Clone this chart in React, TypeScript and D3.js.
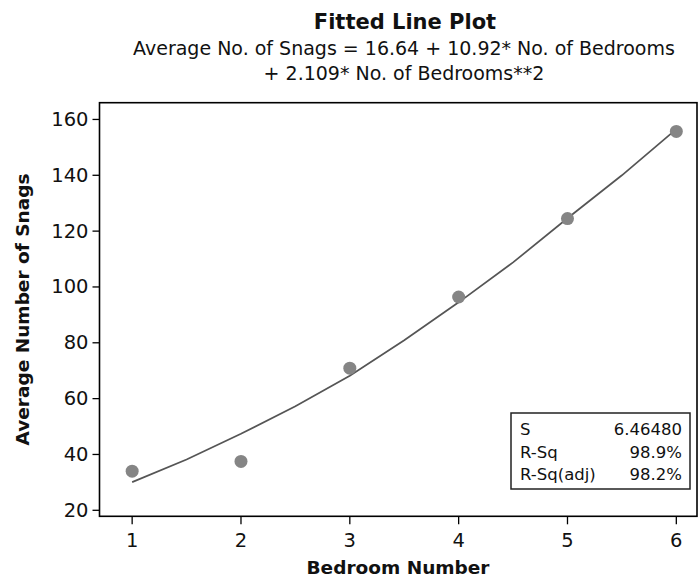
import React from "react";
import * as d3 from "d3";

const bedrooms = [1, 2, 3, 4, 5, 6];
const avgSnags = [34.0, 37.5, 70.9, 96.4, 124.5, 155.7];

const fitX = [1, 1.5, 2, 2.5, 3, 3.5, 4, 4.5, 5, 5.5, 6];
const fitY = [30.1, 38.2, 47.4, 57.3, 68.2, 80.9, 94.5, 108.8, 124.6, 140.0, 156.5];

const xTicks = [1, 2, 3, 4, 5, 6];
const yTicks = [20, 40, 60, 80, 100, 120, 140, 160];

const statLabels = ["S", "R-Sq", "R-Sq(adj)"];
const statValues = ["6.46480", "98.9%", "98.2%"];

const titleText = "Fitted Line Plot";
const subtitleLines = [
  "Average No. of Snags = 16.64 + 10.92* No. of Bedrooms",
  "+ 2.109* No. of Bedrooms**2",
];
const xTitle = "Bedroom Number";
const yTitle = "Average Number of Snags";

const W = 698;
const H = 578;
const left = 99.5;
const right = 697;
const top = 102.7;
const bottom = 516.3;
const FONT = "'DejaVu Sans', Verdana, sans-serif";

export default function App() {
  const x = d3.scaleLinear().domain([0.7, 6.19]).range([left, right]);
  const y = d3.scaleLinear().domain([17.85, 166]).range([bottom, top]);
  const line = d3
    .line<number>()
    .x((_, i) => x(fitX[i]))
    .y((d) => y(d))
    .curve(d3.curveLinear);

  const lx = 511;
  const ly = 413;
  const lw = 179;
  const lh = 76;

  return (
    <svg
      width={W}
      height={H}
      style={{ position: "absolute", left: 0, top: 0, background: "#fff" }}
      fontFamily={FONT}
    >
      <rect x={0} y={0} width={W} height={H} fill="#fff" />
      <text x={405} y={28.5} textAnchor="middle" fontSize={21} fontWeight="bold" fill="#111">
        {titleText}
      </text>
      {subtitleLines.map((s, i) => (
        <text key={i} x={404} y={55 + i * 25} textAnchor="middle" fontSize={19} fill="#111">
          {s}
        </text>
      ))}

      {/* frame */}
      <rect
        x={left}
        y={top}
        width={right - left}
        height={bottom - top}
        fill="none"
        stroke="#000"
        strokeWidth={1.6}
      />

      {/* y axis */}
      {yTicks.map((t) => (
        <g key={t}>
          <line x1={left - 7} x2={left} y1={y(t)} y2={y(t)} stroke="#000" strokeWidth={1.3} />
          <text
            x={left - 11}
            y={y(t)}
            textAnchor="end"
            dominantBaseline="central"
            fontSize={19.5}
            fill="#111"
          >
            {t}
          </text>
        </g>
      ))}
      {/* x axis */}
      {xTicks.map((t) => (
        <g key={t}>
          <line x1={x(t)} x2={x(t)} y1={bottom} y2={bottom + 8} stroke="#000" strokeWidth={1.3} />
          <text x={x(t)} y={547} textAnchor="middle" fontSize={19.5} fill="#111">
            {t}
          </text>
        </g>
      ))}

      <text x={398} y={574} textAnchor="middle" fontSize={18.5} fontWeight="bold" fill="#111">
        {xTitle}
      </text>
      <text
        transform={`translate(22,${(top + bottom) / 2}) rotate(-90)`}
        textAnchor="middle"
        dominantBaseline="central"
        fontSize={18.5}
        fontWeight="bold"
        fill="#111"
      >
        {yTitle}
      </text>

      {/* fitted line */}
      <path d={line(fitY) || ""} fill="none" stroke="#555" strokeWidth={1.7} />

      {/* points */}
      {bedrooms.map((b, i) => (
        <circle key={b} cx={x(b)} cy={y(avgSnags[i])} r={6.5} fill="#858585" />
      ))}

      {/* stats box */}
      <rect x={lx} y={ly} width={lw} height={lh} fill="#fff" stroke="#222" strokeWidth={1.5} />
      {statLabels.map((s, i) => (
        <g key={s}>
          <text x={lx + 9} y={ly + 22 + i * 22.5} fontSize={16.5} fill="#111">
            {s}
          </text>
          <text x={lx + lw - 8} y={ly + 22 + i * 22.5} fontSize={16.5} textAnchor="end" fill="#111">
            {statValues[i]}
          </text>
        </g>
      ))}
    </svg>
  );
}
